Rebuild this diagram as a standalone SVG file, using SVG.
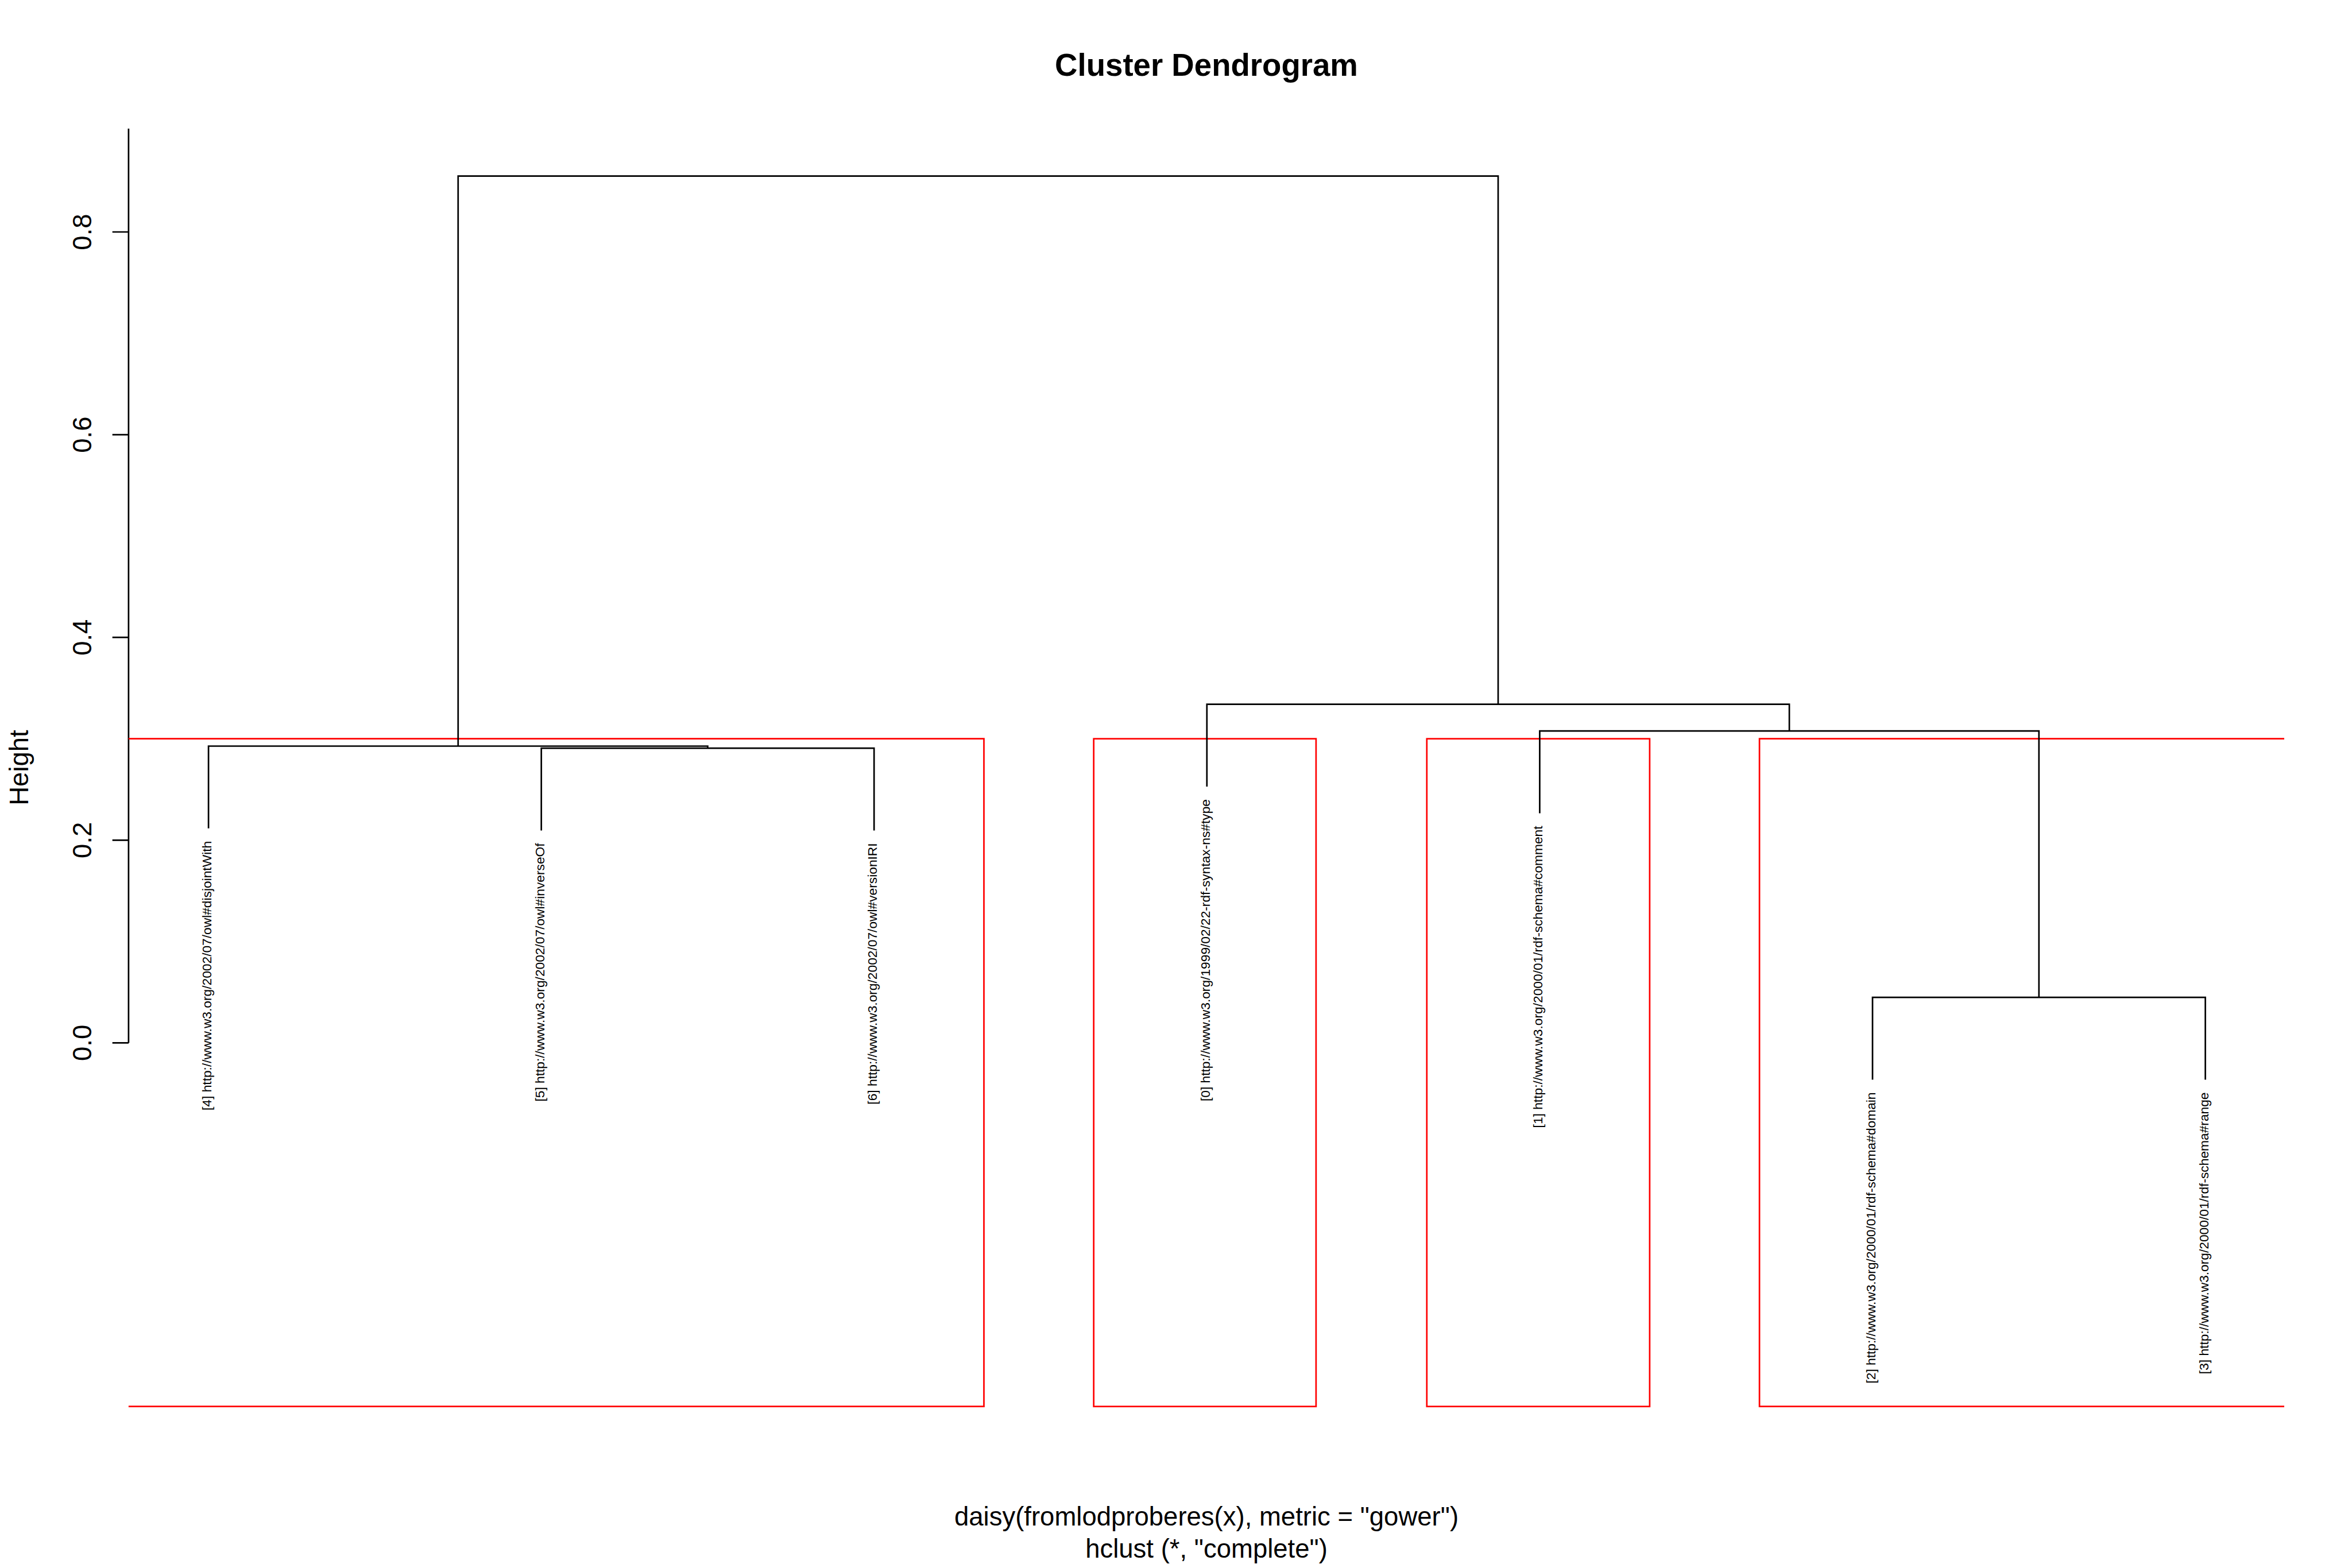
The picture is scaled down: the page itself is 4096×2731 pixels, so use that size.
<svg xmlns="http://www.w3.org/2000/svg" width="4096" height="2731" viewBox="0 0 4096 2731">
<style>
.ln{fill:none;stroke:#000;stroke-width:2.7;stroke-linecap:butt;stroke-linejoin:miter}
.rd{fill:none;stroke:#ff0000;stroke-width:2.7}
.lab{font-family:"Liberation Sans",Arial,sans-serif;font-size:22.75px;fill:#000;text-anchor:end}
.ax{font-family:"Liberation Sans",Arial,sans-serif;font-size:45.5px;fill:#000;text-anchor:middle}
.ttl{font-family:"Liberation Sans",Arial,sans-serif;font-size:54.6px;font-weight:bold;fill:#000;text-anchor:middle}
</style>
<rect width="4096" height="2731" fill="#fff"/>
<text class="ttl" x="2101" y="132">Cluster Dendrogram</text>
<g id="axis">
<path class="ln" d="M223.9 223.9V1816.4M195.7 1816.4H223.9M195.7 1463.3H223.9M195.7 1110.2H223.9M195.7 757.1H223.9M195.7 404H223.9"/>
<text class="ax" transform="translate(159.3,1816.4) rotate(-90)">0.0</text>
<text class="ax" transform="translate(159.3,1463.3) rotate(-90)">0.2</text>
<text class="ax" transform="translate(159.3,1110.2) rotate(-90)">0.4</text>
<text class="ax" transform="translate(159.3,757.1) rotate(-90)">0.6</text>
<text class="ax" transform="translate(159.3,404) rotate(-90)">0.8</text>
<text class="ax" transform="translate(48.5,1337) rotate(-90)">Height</text>
</g>
<g id="clusters">
<path class="rd" d="M223.9 1286.7H1713.5V2449.7H223.9"/>
<rect class="rd" x="1904.7" y="1286.7" width="387.2" height="1163"/>
<rect class="rd" x="2484.8" y="1286.7" width="388.1" height="1163"/>
<path class="rd" d="M3978 1286.7H3064.1V2449.7H3978"/>
</g>
<g id="connectors">
<path class="ln" d="M797.8 1299.5V306.7H2609V1226.7"/>
<path class="ln" d="M363.1 1442.8V1299.5H1232.45V1303.1"/>
<path class="ln" d="M942.7 1446.4V1303.1H1522.2V1446.4"/>
<path class="ln" d="M2101.8 1370V1226.7H3116.1V1273.1"/>
<path class="ln" d="M2681.4 1416.4V1273.1H3550.8V1737.2"/>
<path class="ln" d="M3261 1880.5V1737.2H3840.6V1880.5"/>
</g>
<g id="leaf4"><text class="lab" transform="translate(368.1,1464.8) rotate(-90)">[4] http://www.w3.org/2002/07/owl#disjointWith</text></g>
<g id="leaf5"><text class="lab" transform="translate(947.7,1468.4) rotate(-90)">[5] http://www.w3.org/2002/07/owl#inverseOf</text></g>
<g id="leaf6"><text class="lab" transform="translate(1527.2,1468.4) rotate(-90)">[6] http://www.w3.org/2002/07/owl#versionIRI</text></g>
<g id="leaf0"><text class="lab" transform="translate(2106.8,1392) rotate(-90)">[0] http://www.w3.org/1999/02/22-rdf-syntax-ns#type</text></g>
<g id="leaf1"><text class="lab" transform="translate(2686.4,1438.4) rotate(-90)">[1] http://www.w3.org/2000/01/rdf-schema#comment</text></g>
<g id="leaf2"><text class="lab" transform="translate(3266,1902.5) rotate(-90)">[2] http://www.w3.org/2000/01/rdf-schema#domain</text></g>
<g id="leaf3"><text class="lab" transform="translate(3845.6,1902.5) rotate(-90)">[3] http://www.w3.org/2000/01/rdf-schema#range</text></g>
<text class="ax" x="2101" y="2657.2">daisy(fromlodproberes(x), metric = "gower")</text>
<text class="ax" x="2101" y="2712.7">hclust (*, "complete")</text>
</svg>
